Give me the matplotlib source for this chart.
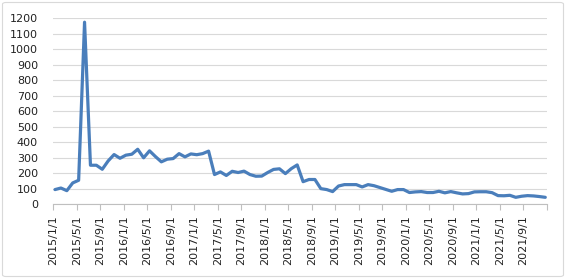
import numpy as np
import matplotlib
matplotlib.use("Agg")
import matplotlib.pyplot as plt
from matplotlib.patches import FancyBboxPatch

# monthly values, 2015/1 .. 2021/12
values = [
    95, 105, 88, 138, 155, 1175, 252, 252, 226, 280, 321, 297,      # 2015
    317, 323, 355, 300, 345, 308, 274, 291, 295, 327, 306, 325,     # 2016
    320, 327, 343, 192, 209, 186, 213, 205, 214, 192, 181, 182,     # 2017
    205, 225, 229, 198, 230, 254, 146, 160, 160, 101, 95, 82,       # 2018
    118, 127, 127, 127, 112, 127, 120, 108, 96, 84, 95, 95,         # 2019
    76, 80, 82, 76, 76, 84, 74, 82, 74, 67, 69, 80,                 # 2020
    81, 81, 75, 56, 55, 58, 45, 52, 56, 54, 50, 45,                 # 2021
]
tick_labels = [f"{y}/{m}/1" for y in range(2015, 2022) for m in (1, 5, 9)]
yticks = list(range(0, 1300, 100))

LINE = "#4A7EBB"
GRID = "#D9D9D9"
TXT = "#222222"

plt.rcParams["font.family"] = "DejaVu Sans"

fig = plt.figure(figsize=(5.66, 2.79), dpi=100)
ax = fig.add_axes([53.3 / 566, 1 - 204.3 / 279, (546.7 - 53.3) / 566, (204.3 - 18.3) / 279])

# chart-area border
fig.patches.append(FancyBboxPatch((2.5 / 566, 2.5 / 279), 561 / 566, 274 / 279,
                                  boxstyle="round,pad=0,rounding_size=0.006",
                                  transform=fig.transFigure, fill=False,
                                  edgecolor=GRID, linewidth=0.8))

x = np.arange(len(values))
ax.plot(x, values, color=LINE, linewidth=2.3, solid_joinstyle="round", solid_capstyle="round")

lo, hi = -0.29, 83.24
ax.set_xlim(lo, hi)
ax.set_ylim(0, 1200)
ticks = np.linspace(lo, hi, 22)
ax.set_xticks(ticks)
ax.set_xticklabels(tick_labels + [""], rotation=90, fontsize=8, color=TXT)
ax.set_yticks(yticks)
ax.set_yticklabels([str(v) for v in yticks], fontsize=8, color=TXT)

ax.grid(axis="y", color=GRID, linewidth=0.8)
ax.set_axisbelow(True)
for side in ("top", "right", "left"):
    ax.spines[side].set_visible(False)
ax.spines["bottom"].set_color("#BFBFBF")
ax.spines["bottom"].set_linewidth(0.8)
ax.tick_params(axis="x", length=4, width=0.8, color="#BFBFBF", pad=4)
ax.tick_params(axis="y", length=0, pad=11)

fig.savefig("out.png", dpi=100)
